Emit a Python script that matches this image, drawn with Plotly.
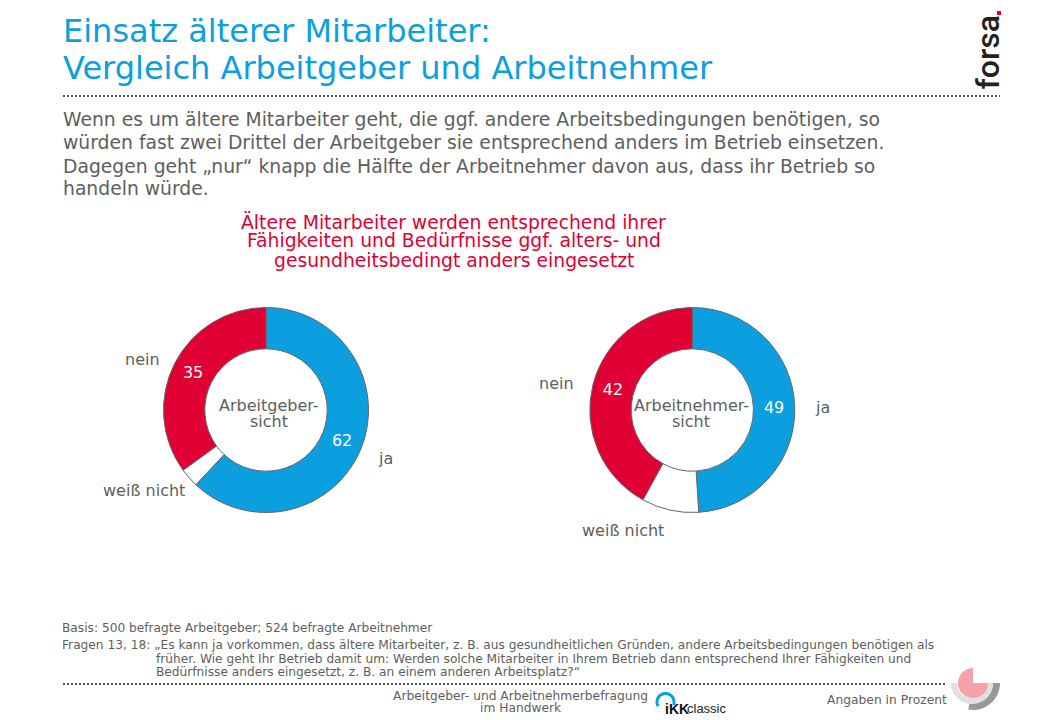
import numpy as np
import plotly.graph_objects as go

W, H = 1040, 720
FONT = "DejaVu Sans"
GREY = "#5E5E5E"
BLUE = "#0C9FE0"
RED = "#E00034"

categories = ["ja", "weiß nicht", "nein"]
arbeitgeber = [62, 3, 35]
arbeitnehmer = [49, 9, 42]
colors = [BLUE, "#FFFFFF", RED]

title_lines = ["Einsatz älterer Mitarbeiter:", "Vergleich Arbeitgeber und Arbeitnehmer"]
intro_lines = [
    "Wenn es um ältere Mitarbeiter geht, die ggf. andere Arbeitsbedingungen benötigen, so",
    "würden fast zwei Drittel der Arbeitgeber sie entsprechend anders im Betrieb einsetzen.",
    "Dagegen geht „nur“ knapp die Hälfte der Arbeitnehmer davon aus, dass ihr Betrieb so",
    "handeln würde.",
]
red_lines = [
    "Ältere Mitarbeiter werden entsprechend ihrer",
    "Fähigkeiten und Bedürfnisse ggf. alters- und",
    "gesundheitsbedingt anders eingesetzt",
]
note_lines = [
    (60, 628, "Basis: 500 befragte Arbeitgeber; 524 befragte Arbeitnehmer"),
    (60, 645, "Fragen 13, 18: „Es kann ja vorkommen, dass ältere Mitarbeiter, z. B. aus gesundheitlichen Gründen, andere Arbeitsbedingungen benötigen als"),
    (154, 659, "früher. Wie geht Ihr Betrieb damit um: Werden solche Mitarbeiter in Ihrem Betrieb dann entsprechend Ihrer Fähigkeiten und"),
    (154, 672, "Bedürfnisse anders eingesetzt, z. B. an einem anderen Arbeitsplatz?“"),
]


def px(x):
    return x / W


def py(y):
    return 1 - y / H


def text(x, y, s, size, color=GREY, anchor="left", family=FONT, angle=0, weight="normal"):
    return dict(x=px(x), y=py(y), xref="paper", yref="paper", text=s, showarrow=False,
                xanchor=anchor, yanchor="middle", textangle=angle,
                font=dict(family=family, size=size, color=color, weight=weight))


def arc_path(cx, cy, r1, r0, a0, a1, n=48):
    t = np.radians(np.linspace(a0, a1, n))
    pts = [(cx + r1 * np.cos(v), cy + r1 * np.sin(v)) for v in t]
    if r0 > 0:
        pts += [(cx + r0 * np.cos(v), cy + r0 * np.sin(v)) for v in t[::-1]]
    else:
        pts.append((cx, cy))
    return "M" + "L".join(f"{px(a):.5f},{py(b):.5f}" for a, b in pts) + "Z"


def pie(values, cx, cy=410, r=102.5):
    return go.Pie(
        labels=categories, values=values, sort=False, direction="clockwise", rotation=0,
        hole=0.597, text=[str(v) if c != "#FFFFFF" else "" for v, c in zip(values, colors)],
        textinfo="text", textposition="inside", insidetextorientation="horizontal",
        textfont=dict(family=FONT, size=16, color="#FFFFFF"),
        marker=dict(colors=colors, line=dict(color="#666666", width=1)),
        domain=dict(x=[px(cx - r), px(cx + r)], y=[py(cy + r), py(cy - r)]),
        showlegend=False, hoverinfo="label+value",
    )


fig = go.Figure([pie(arbeitgeber, 266), pie(arbeitnehmer, 692.3)])

ann = []
for y, s in zip([31, 68], title_lines):
    ann.append(text(61, y, s, 32, "#0C9FE0"))
for y, s in zip([120, 143, 166, 189], intro_lines):
    ann.append(text(61, y, s, 18.75))
for y, s in zip([222, 241, 260], red_lines):
    ann.append(text(453.5, y, s, 18.75, RED, "center"))
for x, y, s in note_lines:
    ann.append(text(x, y, s, 12.2))
for x, y, s in [(123, 359, "nein"), (376, 458, "ja"), (101, 490, "weiß nicht"),
                (537, 383, "nein"), (813, 407, "ja"), (580, 530, "weiß nicht")]:
    ann.append(text(x, y, s, 16))
for x, y, s in [(268.5, 405, "Arbeitgeber-"), (268.5, 421, "sicht"),
                (691, 405, "Arbeitnehmer-"), (691, 421, "sicht")]:
    ann.append(text(x, y, s, 16, GREY, "center"))
ann.append(text(520.5, 696, "Arbeitgeber- und Arbeitnehmerbefragung", 12.25, GREY, "center"))
ann.append(text(520.5, 708, "im Handwerk", 12.25, GREY, "center"))
ann.append(text(825, 700, "Angaben in Prozent", 12.3, GREY))
ann.append(text(988, 52.5, "forsa", 32, "#222222", "center", "Roboto", -90, 500))
ann.append(text(663, 708.5, "iKK", 14, "#111111", "left", "Liberation Sans", weight="bold"))
ann.append(text(685, 708.5, "classic", 13, "#222222", "left", "Liberation Sans"))

dotted = dict(color="#555555", width=2, dash="2px,2px")
shapes = [
    dict(type="line", xref="paper", yref="paper", x0=px(63), x1=px(1000), y0=py(96), y1=py(96), line=dotted),
    dict(type="line", xref="paper", yref="paper", x0=px(63), x1=px(945), y0=py(684), y1=py(684), line=dotted),
    dict(type="rect", xref="paper", yref="paper", x0=px(997), x1=px(1001), y0=py(15), y1=py(11),
         fillcolor="#E00034", line=dict(width=0)),
    dict(type="path", xref="paper", yref="paper", path=arc_path(973, 683, 27, 20, 0, 100),
         fillcolor="#999999", line=dict(width=0)),
    dict(type="path", xref="paper", yref="paper", path=arc_path(972, 683, 21, 15, 0, 180),
         fillcolor="#E0E0E0", line=dict(width=0)),
    dict(type="path", xref="paper", yref="paper", path=arc_path(973, 683, 15, 0, 0, 270),
         fillcolor="#F4A3A8", line=dict(width=0)),
]
t = np.radians(np.linspace(150, 380, 40))
arc = [(665.5 + 8.5 * np.cos(v), 702 + 8.5 * np.sin(v)) for v in t]
shapes.append(dict(type="path", xref="paper", yref="paper",
                   path="M" + "L".join(f"{px(a):.5f},{py(b):.5f}" for a, b in arc),
                   line=dict(color="#0C9FE0", width=3)))

fig.update_layout(width=W, height=H, margin=dict(l=0, r=0, t=0, b=0), paper_bgcolor="#FFFFFF",
                  plot_bgcolor="#FFFFFF", annotations=ann, shapes=shapes)
fig.write_html("out.html", config=dict(displayModeBar=False),
               post_script="document.body.style.margin='0';")
